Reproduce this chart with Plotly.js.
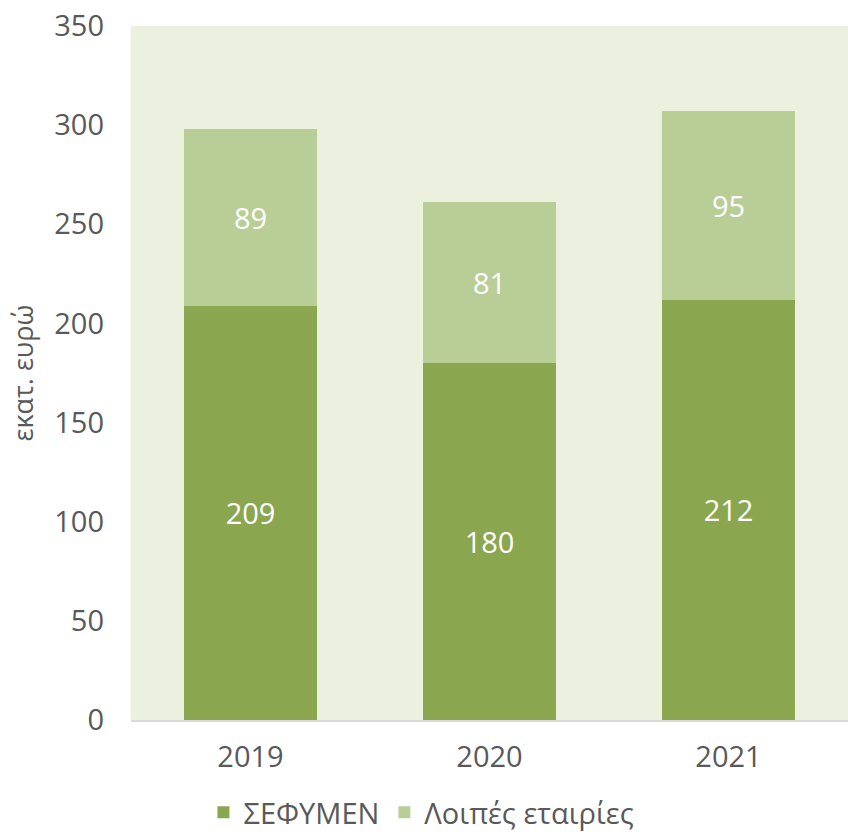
<!DOCTYPE html>
<html>
<head>
<meta charset="utf-8">
<script src="https://cdn.plot.ly/plotly-3.0.1.min.js"></script>
<style>html,body{margin:0;padding:0;background:#fff;}#chart{width:848px;height:838px;}</style>
</head>
<body>
<div id="chart"></div>
<script>
const years = ['2019', '2020', '2021'];
const sefymen = [209, 180, 212];
const others = [89, 81, 95];
const seriesNames = ['ΣΕΦΥΜΕΝ', 'Λοιπές εταιρίες'];
const yTitle = 'εκατ. ευρώ';

const FONT = 'Open Sans, sans-serif';
const GREY = '#595959';

const traces = [
  {
    type: 'bar', name: seriesNames[0], x: years, y: sefymen,
    marker: {color: '#8AA64F'},
    text: sefymen.map(String), textposition: 'inside', insidetextanchor: 'middle',
    textfont: {family: FONT, size: 29, color: '#ffffff'}, hoverinfo: 'skip'
  },
  {
    type: 'bar', name: seriesNames[1], x: years, y: others,
    marker: {color: '#B9CE97'},
    text: others.map(String), textposition: 'inside', insidetextanchor: 'middle',
    textfont: {family: FONT, size: 29, color: '#ffffff'}, hoverinfo: 'skip'
  }
];

const layout = {
  width: 848, height: 838,
  margin: {l: 131, r: 0, t: 26, b: 118},
  barmode: 'stack', bargap: 0.444,
  paper_bgcolor: '#ffffff', plot_bgcolor: '#EBF0DF',
  font: {family: FONT, color: GREY, size: 29},
  showlegend: true,
  legend: {
    orientation: 'h', xref: 'container', yref: 'container',
    x: 0.497, xanchor: 'center', y: 0.0, yanchor: 'bottom',
    font: {family: FONT, size: 29, color: GREY},
    traceorder: 'normal', itemwidth: 30
  },
  xaxis: {
    type: 'category', showgrid: false, zeroline: false,
    showline: true, linecolor: '#D9D9D9', linewidth: 2,
    ticks: '', tickfont: {family: FONT, size: 29, color: GREY},
    ticklabelstandoff: 10, fixedrange: true
  },
  yaxis: {
    range: [0, 350], dtick: 50, showgrid: false, zeroline: false, showline: false,
    ticks: '', tickfont: {family: FONT, size: 29, color: GREY},
    ticklabelstandoff: 26,
    title: {text: yTitle, font: {family: FONT, size: 27, color: GREY}, standoff: 12},
    fixedrange: true
  }
};

Plotly.newPlot('chart', traces, layout, {displayModeBar: false, staticPlot: true});
</script>
</body>
</html>
